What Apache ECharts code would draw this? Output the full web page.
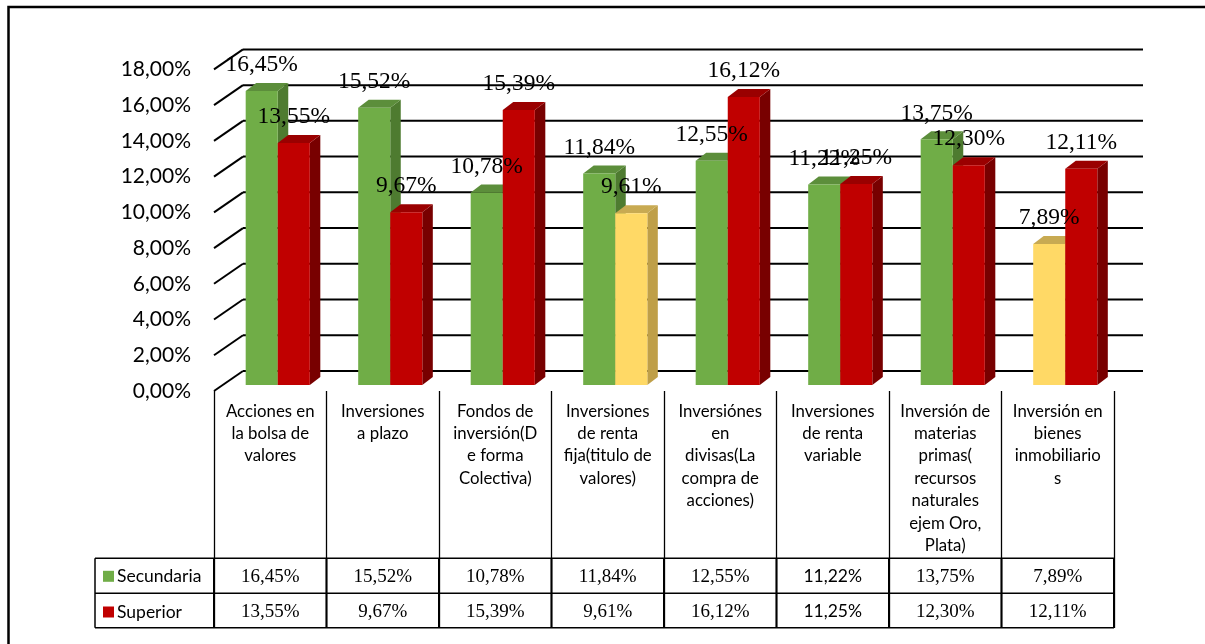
<!DOCTYPE html>
<html><head><meta charset="utf-8">
<script src="https://cdn.jsdelivr.net/npm/echarts@6/dist/echarts.min.js"></script>
<style>html,body{margin:0;padding:0;background:#fff}#c{width:1205px;height:644px}</style>
</head><body><div id="c"></div>
<script>
const categories = [
  'Acciones en\nla bolsa de\nvalores',
  'Inversiones\na plazo',
  'Fondos de\ninversión(D\ne forma\nColectiva)',
  'Inversiones\nde renta\nfija(titulo de\nvalores)',
  'Inversiónes\nen\ndivisas(La\ncompra de\nacciones)',
  'Inversiones\nde renta\nvariable',
  'Inversión de\nmaterias\nprimas(\nrecursos\nnaturales\nejem Oro,\nPlata)',
  'Inversión en\nbienes\ninmobiliario\ns'
];
const seriesNames = ['Secundaria', 'Superior'];
const secundaria = [16.45, 15.52, 10.78, 11.84, 12.55, 11.22, 13.75, 7.89];
const superior = [13.55, 9.67, 15.39, 9.61, 16.12, 11.25, 12.30, 12.11];
const yTicks = [0, 2, 4, 6, 8, 10, 12, 14, 16, 18];

const allSeries = [secundaria, superior];
const COLORS = [
  {front: '#70AD47', side: '#4E7B30', top: '#5C8E3B'},
  {front: '#C00000', side: '#780000', top: '#9A0000'}
];
const YELLOW = {front: '#FFD966', side: '#BF9F48', top: '#C8AA52'};
const SERIF = '"Liberation Serif","Times New Roman",serif';
const SANS = 'Lato,"Noto Sans",sans-serif';
const SANS_COLUMN = 5;
const fmt = v => v.toFixed(2).replace('.', ',') + '%';

// 3D offsets (pixels)
const BAR_OFF = [7.5, -6], DEPTH = [10.5, -8], WALL = [29, -20];

function barGeom(api, sIdx, i, v) {
  const base = api.coord([i, 0]);
  const top = api.coord([i, v]);
  const band = api.size([1, 0])[0];
  const w = band * 0.285;
  const x0 = base[0] + BAR_OFF[0] + (sIdx === 0 ? -w : 0);
  return {x0, w, yb: base[1] + BAR_OFF[1], yt: top[1] + BAR_OFF[1]};
}

function barSeries(sIdx) {
  const values = allSeries[sIdx];
  const minV = Math.min(...values);
  return {
    type: 'custom', name: seriesNames[sIdx], z: 3 + sIdx,
    itemStyle: {color: COLORS[sIdx].front},
    data: values.map((v, i) => [i, v]),
    renderItem(params, api) {
      const i = api.value(0), v = api.value(1);
      const g = barGeom(api, sIdx, i, v);
      const c = v === minV ? YELLOW : COLORS[sIdx];
      const {x0, w, yb, yt} = g, dx = DEPTH[0], dy = DEPTH[1];
      return {type: 'group', children: [
        {type: 'polygon', shape: {points: [[x0 + w, yt], [x0 + w + dx, yt + dy], [x0 + w + dx, yb + dy], [x0 + w, yb]]}, style: {fill: c.side}},
        {type: 'polygon', shape: {points: [[x0, yt], [x0 + dx, yt + dy], [x0 + w + dx, yt + dy], [x0 + w, yt]]}, style: {fill: c.top}},
        {type: 'rect', shape: {x: x0, y: yt, width: w, height: yb - yt}, style: {fill: c.front}}
      ]};
    }
  };
}

function labelSeries(sIdx) {
  const values = allSeries[sIdx];
  return {
    type: 'custom', name: 'lbl' + sIdx, z: 10, silent: true,
    data: values.map((v, i) => [i, v]),
    renderItem(params, api) {
      const i = api.value(0), v = api.value(1);
      const g = barGeom(api, sIdx, i, v);
      return {type: 'text', x: g.x0 + g.w / 2, y: g.yt - 26,
        style: {text: fmt(v), fill: '#000', font: '23.5px ' + SERIF, align: 'center', verticalAlign: 'middle'}};
    }
  };
}

const gridSeries = {
  type: 'custom', name: 'wall', z: 1, silent: true,
  data: yTicks.map(v => [0, v]),
  renderItem(params, api) {
    const cs = params.coordSys;
    const y = api.coord([0, api.value(1)])[1];
    const x = cs.x;
    return {type: 'group', children: [
      {type: 'line', shape: {x1: x, y1: y, x2: x + WALL[0], y2: y + WALL[1]}, style: {stroke: '#000', lineWidth: 2}},
      {type: 'line', shape: {x1: x + WALL[0], y1: y + WALL[1], x2: x + WALL[0] + cs.width, y2: y + WALL[1]}, style: {stroke: '#000', lineWidth: 2}}
    ]};
  }
};

const tableSeries = {
  type: 'custom', name: 'table', z: 5, silent: true,
  data: categories.map((c, i) => [i, secundaria[i], superior[i]]),
  renderItem(params, api) {
    const cs = params.coordSys;
    const i = api.value(0);
    const cx = api.coord([i, 0])[0];
    const band = api.size([1, 0])[0];
    const y0 = cs.y + cs.height;
    const r1 = y0 + 167.3, r2 = y0 + 202.3, r3 = y0 + 236.8;
    const font = (i === SANS_COLUMN ? '17.5px ' + SANS : '19px ' + SERIF);
    const children = [
      {type: 'text', x: cx, y: (r1 + r2) / 2 + 1, style: {text: fmt(api.value(1)), fill: '#000', font, align: 'center', verticalAlign: 'middle'}},
      {type: 'text', x: cx, y: (r2 + r3) / 2 + 1, style: {text: fmt(api.value(2)), fill: '#000', font, align: 'center', verticalAlign: 'middle'}},
      {type: 'line', shape: {x1: cx + band / 2, y1: r1, x2: cx + band / 2, y2: r3}, style: {stroke: '#000', lineWidth: 2}}
    ];
    if (i === 0) {
      const lx = 95, rx = cs.x + cs.width;
      [r1, r2, r3].forEach(r => children.push({type: 'line', shape: {x1: lx, y1: r, x2: rx, y2: r}, style: {stroke: '#000', lineWidth: 1.5}}));
      children.push({type: 'line', shape: {x1: lx, y1: r1, x2: lx, y2: r3}, style: {stroke: '#000', lineWidth: 1.5}});
      children.push({type: 'line', shape: {x1: cs.x, y1: r1, x2: cs.x, y2: r3}, style: {stroke: '#000', lineWidth: 2}});
    }
    return {type: 'group', children};
  }
};

const chart = echarts.init(document.getElementById('c'), null, {renderer: 'canvas'});
chart.setOption({
  animation: false,
  backgroundColor: '#fff',
  graphic: [{type: 'rect', shape: {x: 8.5, y: 7, width: 1220, height: 660}, style: {fill: 'none', stroke: '#000', lineWidth: 2.5}, z: 100}],
  legend: {
    data: seriesNames, orient: 'vertical', left: 103, top: 567.3, padding: 0,
    itemWidth: 11, itemHeight: 11, itemGap: 17.7, icon: 'rect',
    textStyle: {fontFamily: SANS, fontSize: 17.5, color: '#000', lineHeight: 17, padding: [0, 0, 0, -2]},
    selectedMode: false
  },
  grid: {left: 214, right: 91, top: 69.4, bottom: 253, containLabel: false},
  xAxis: {
    type: 'category', data: categories, boundaryGap: true,
    axisLine: {show: false},
    axisTick: {show: true, length: 237, lineStyle: {color: '#000', width: 1.3}},
    axisLabel: {interval: 0, margin: 9, fontFamily: SANS, fontSize: 16.8, lineHeight: 22.4, color: '#000', align: 'center', verticalAlign: 'top'},
    splitLine: {show: false}
  },
  yAxis: {
    type: 'value', min: 0, max: 18, interval: 2,
    axisLine: {show: false}, axisTick: {show: false}, splitLine: {show: false},
    axisLabel: {margin: 23, fontFamily: SANS, fontSize: 21, color: '#000', formatter: v => fmt(v), padding: [5, 0, 0, 0]}
  },
  series: [gridSeries, barSeries(0), barSeries(1), labelSeries(0), labelSeries(1), tableSeries]
});
</script></body></html>
